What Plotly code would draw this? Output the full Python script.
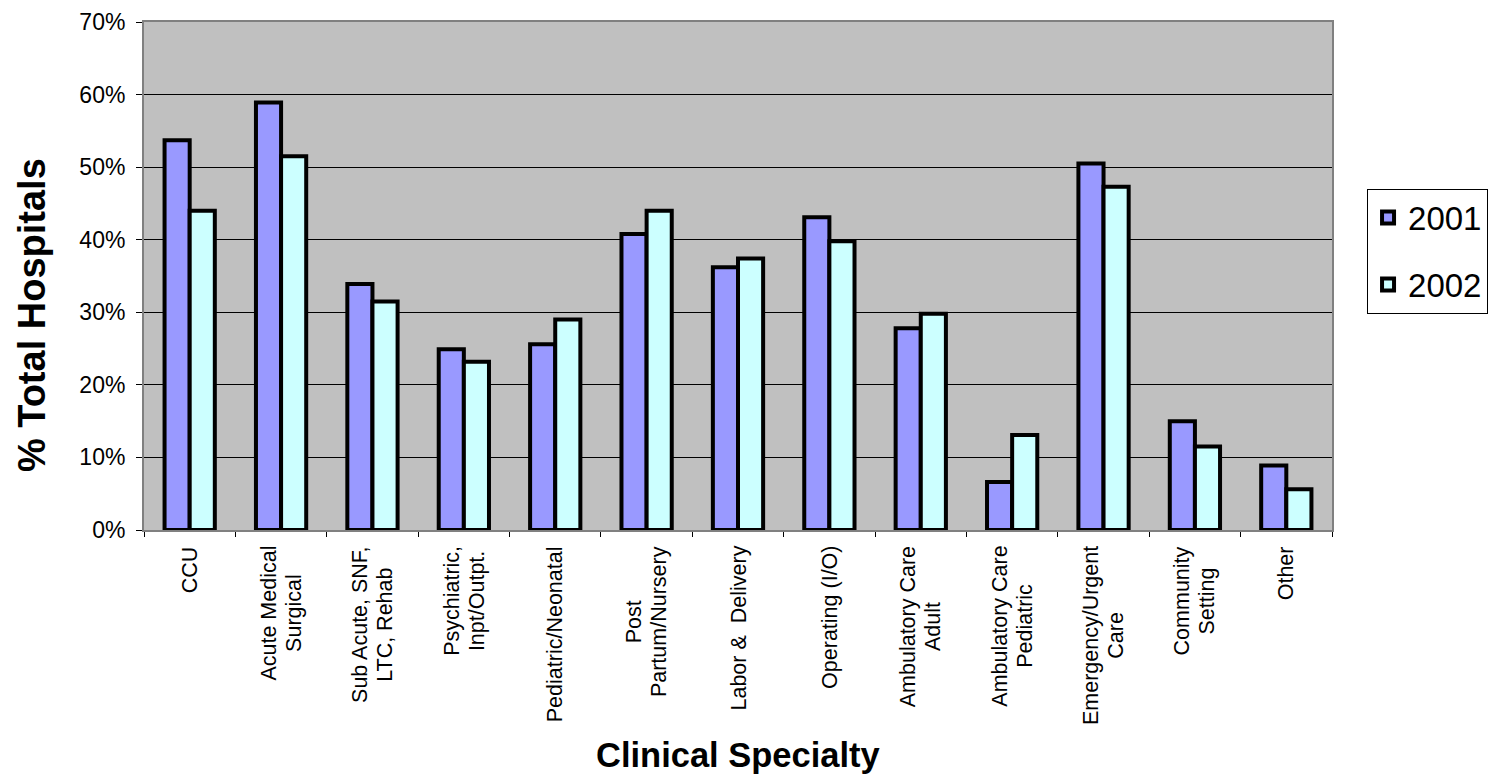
import plotly.graph_objects as go

# Share of hospitals by clinical specialty, 2001 vs 2002
categories = [
    "CCU",
    "Acute Medical Surgical",
    "Sub Acute, SNF, LTC, Rehab",
    "Psychiatric, Inpt/Outpt.",
    "Pediatric/Neonatal",
    "Post Partum/Nursery",
    "Labor & Delivery",
    "Operating (I/O)",
    "Ambulatory Care Adult",
    "Ambulatory Care Pediatric",
    "Emergency/Urgent Care",
    "Community Setting",
    "Other",
]
# how each category label is broken into lines under the axis
label_lines = [
    ["CCU"],
    ["Acute Medical", "Surgical"],
    ["Sub Acute, SNF,", "LTC, Rehab"],
    ["Psychiatric,", "Inpt/Outpt."],
    ["Pediatric/Neonatal"],
    ["Post", "Partum/Nursery"],
    ["Labor &  Delivery"],
    ["Operating (I/O)"],
    ["Ambulatory Care", "Adult"],
    ["Ambulatory Care", "Pediatric"],
    ["Emergency/Urgent", "Care"],
    ["Community", "Setting"],
    ["Other"],
]
pct_2001 = [53.7, 58.9, 33.9, 24.9, 25.6, 40.8, 36.2, 43.1, 27.8, 6.6, 50.5, 15.0, 8.9]
pct_2002 = [44.0, 51.5, 31.5, 23.2, 29.0, 44.0, 37.4, 39.8, 29.8, 13.1, 47.3, 11.5, 5.6]
y_ticks = [0, 10, 20, 30, 40, 50, 60, 70]

FONT = "Liberation Sans, Arial, sans-serif"
LABEL_SIZE = 21.5      # glyph size of the category labels
LABEL_LINE_BASE = 19.2  # base size that sets their line spacing

fig = go.Figure()
fig.add_trace(go.Bar(
    name="2001", x=categories, y=[v / 100 for v in pct_2001],
    marker=dict(color="#9999FF", line=dict(color="black", width=4)),
    legendgroup="a",
))
fig.add_trace(go.Bar(
    name="2002", x=categories, y=[v / 100 for v in pct_2002],
    marker=dict(color="#CCFFFF", line=dict(color="black", width=4)),
    legendgroup="b",
))

# rotated, centre-aligned category labels below the axis
for cat, lines in zip(categories, label_lines):
    text = "<br>".join(
        f'<span style="font-size:{LABEL_SIZE}px">{ln}</span>' for ln in lines
    )
    fig.add_annotation(
        x=cat, xref="x", y=0, yref="paper", yshift=-14,
        text=text, textangle=-90, showarrow=False,
        xanchor="center", yanchor="top", align="center",
        font=dict(family=FONT, size=LABEL_LINE_BASE, color="black"),
    )

# axis titles
fig.add_annotation(
    x=0.5, xref="paper", y=-0.443, yref="paper",
    text="<b>Clinical Specialty</b>", showarrow=False,
    xanchor="center", yanchor="middle",
    font=dict(family=FONT, size=34.5, color="black"),
)
fig.add_annotation(
    x=-0.0943, xref="paper", y=0.423, yref="paper",
    text="<b>% Total Hospitals</b>", textangle=-90, showarrow=False,
    xanchor="center", yanchor="middle",
    font=dict(family=FONT, size=38, color="black"),
)

fig.update_layout(
    width=1497, height=784,
    margin=dict(l=144, r=165, t=22, b=254, autoexpand=False),
    paper_bgcolor="white",
    plot_bgcolor="#C0C0C0",
    barmode="group",
    bargap=0.45,
    bargroupgap=0,
    font=dict(family=FONT, color="black"),
    legend=dict(
        x=1.0295, xanchor="left", y=0.549, yanchor="middle",
        bgcolor="white", bordercolor="black", borderwidth=1,
        font=dict(family=FONT, size=33, color="black"),
        traceorder="grouped", tracegroupgap=21,
    ),
    showlegend=True,
)
fig.update_xaxes(
    showticklabels=False,
    ticks="outside", tickson="boundaries", ticklen=5, tickcolor="black",
    showline=True, linecolor="#808080", linewidth=2, mirror=True,
    showgrid=False,
)
fig.update_yaxes(
    range=[0, 0.7],
    tickvals=[t / 100 for t in y_ticks],
    ticktext=[f"{t}%" for t in y_ticks],
    tickfont=dict(family=FONT, size=23, color="black"),
    ticks="outside", ticklen=6, tickcolor="black", ticklabelstandoff=6,
    showline=True, linecolor="#808080", linewidth=2, mirror=True,
    showgrid=True, gridcolor="black", gridwidth=1,
    zeroline=False,
)

fig.write_html("out.html")
